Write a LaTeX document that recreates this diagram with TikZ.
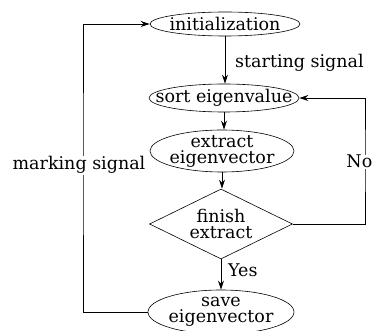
\documentclass[tikz,border=0pt]{standalone}
\usepackage{fontspec}
\setmainfont{DejaVu Serif}
\usetikzlibrary{shapes.geometric,arrows.meta}
\begin{document}
\begin{tikzpicture}[x=1pt,y=-1pt,
  every node/.style={font=\fontsize{17.5}{16}\selectfont},
  ell/.style={draw,ellipse,line width=0.6pt,inner sep=0pt},
  dia/.style={draw,diamond,line width=0.6pt,inner sep=0pt},
  arr/.style={line width=0.9pt,-{Stealth[length=9pt,width=6pt]}},
  lbl/.style={fill=white,inner sep=1pt}]
\useasboundingbox (0,0) rectangle (373,331);
\clip (0,0) rectangle (373,331);
\node[ell,minimum width=150pt,minimum height=24pt,label={center:initialization}] (init) at (225,24) {};
\node[ell,minimum width=150pt,minimum height=28pt,label={center:sort eigenvalue}] (sort) at (224,98) {};
\node[ell,minimum width=144pt,minimum height=42pt,label={[align=center]center:extract\\eigenvector}] (ext) at (222,151) {};
\node[dia,minimum width=143pt,minimum height=70pt,label={[align=center]center:finish\\extract}] (fin) at (221,224) {};
\node[ell,minimum width=146pt,minimum height=44pt,label={[align=center]center:save\\eigenvector}] (save) at (221,312) {};
\draw[arr] (init.south) -- (sort.north -| init.south);
\draw[arr] (sort.south) -- (ext.north -| sort.south);
\draw[arr] (ext.south) -- (fin.north -| ext.south);
\draw[arr] (fin.south) -- (save.north -| fin.south);
\draw[arr] (save.west) -| (83,160) |- (init.west);
\draw[arr] (fin.east) -| (365,160) |- (sort.east);
\node[anchor=base west,inner sep=0pt] (start) at (235,68) {starting signal};
\node[anchor=base west,inner sep=0pt] (yes) at (228,277) {Yes};
\node[lbl,anchor=base] (mark) at (79,170) {marking signal};
\node[lbl,anchor=base east,inner sep=0.5pt] (no) at (373,168) {No};
\end{tikzpicture}
\end{document}
